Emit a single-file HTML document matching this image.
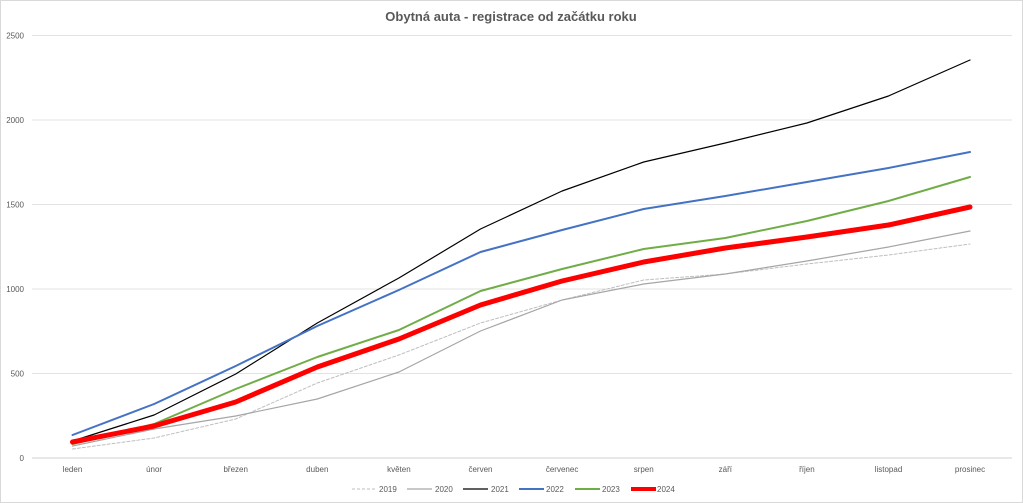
<!DOCTYPE html><html><head><meta charset="utf-8"><style>body{margin:0;background:#fff}svg{display:block;font-family:"Liberation Sans",sans-serif}</style></head><body>
<svg width="1023" height="503" viewBox="0 0 1023 503">
<rect x="0.5" y="0.5" width="1022" height="502" fill="#fff" stroke="#d9d9d9"/>
<text x="511" y="21" text-anchor="middle" font-size="13" font-weight="bold" fill="#595959">Obytná auta - registrace od začátku roku</text>
<g stroke="#e3e3e3" stroke-width="1">
<line x1="32" x2="1012" y1="35.5" y2="35.5"/><line x1="32" x2="1012" y1="120" y2="120"/><line x1="32" x2="1012" y1="204.5" y2="204.5"/><line x1="32" x2="1012" y1="289" y2="289"/><line x1="32" x2="1012" y1="373.5" y2="373.5"/><line x1="32" x2="1012" y1="458" y2="458" stroke="#d0d0d0"/>
</g>
<g font-size="8" fill="#595959" text-anchor="end">
<text x="24" y="38.5">2500</text><text x="24" y="123">2000</text><text x="24" y="207.5">1500</text><text x="24" y="292">1000</text><text x="24" y="376.5">500</text><text x="24" y="461">0</text>
</g>
<g font-size="8" fill="#595959" text-anchor="middle">
<text x="72.5" y="472">leden</text><text x="154.1" y="472">únor</text><text x="235.7" y="472">březen</text><text x="317.3" y="472">duben</text><text x="398.9" y="472">květen</text><text x="480.5" y="472">červen</text><text x="562.1" y="472">červenec</text><text x="643.7" y="472">srpen</text><text x="725.3" y="472">září</text><text x="806.9" y="472">říjen</text><text x="888.5" y="472">listopad</text><text x="970" y="472">prosinec</text>
</g>
<g fill="none" stroke-linejoin="round" stroke-linecap="round">
<polyline stroke="#bfbfbf" stroke-width="1" stroke-dasharray="3,2" points="72.5,449 154.1,438 235.7,419 317.3,383 398.9,355 480.5,323 562.1,300 643.7,280 725.3,274 806.9,264 888.5,255 970,244"/>
<polyline stroke="#a6a6a6" stroke-width="1.2" points="72.5,446 154.1,429 235.7,416 317.3,399 398.9,372 480.5,331 562.1,300 643.7,284 725.3,274 806.9,261 888.5,247 970,231"/>
<polyline stroke="#000" stroke-width="1.2" points="72.5,441 154.1,415 235.7,374 317.3,323 398.9,278 480.5,229 562.1,191 643.7,162 725.3,143 806.9,123 888.5,96 970,60"/>
<polyline stroke="#4472c4" stroke-width="2" points="72.5,435 154.1,404 235.7,366 317.3,326 398.9,290 480.5,252 562.1,230 643.7,209 725.3,196 806.9,182 888.5,168 970,152"/>
<polyline stroke="#70ad47" stroke-width="2" points="72.5,444 154.1,424 235.7,389 317.3,357 398.9,330 480.5,291 562.1,269 643.7,249 725.3,238 806.9,221 888.5,201 970,177"/>
<polyline stroke="#ff0000" stroke-width="5" points="72.5,442 154.1,426 235.7,402 317.3,367 398.9,339 480.5,305 562.1,281 643.7,262 725.3,248 806.9,237 888.5,225 970,207"/>
</g>
<g font-size="8" fill="#595959">
<line x1="352" x2="376" y1="489" y2="489" stroke="#bfbfbf" stroke-dasharray="3,2"/><text x="379" y="492">2019</text>
<line x1="407" x2="432" y1="489" y2="489" stroke="#a6a6a6" stroke-width="1.2"/><text x="435" y="492">2020</text>
<line x1="463" x2="488" y1="489" y2="489" stroke="#000" stroke-width="1.2"/><text x="491" y="492">2021</text>
<line x1="519" x2="544" y1="489" y2="489" stroke="#4472c4" stroke-width="2"/><text x="546" y="492">2022</text>
<line x1="575" x2="600" y1="489" y2="489" stroke="#70ad47" stroke-width="2"/><text x="602" y="492">2023</text>
<line x1="631" x2="656" y1="489" y2="489" stroke="#ff0000" stroke-width="4"/><text x="657" y="492">2024</text>
</g>
</svg></body></html>
